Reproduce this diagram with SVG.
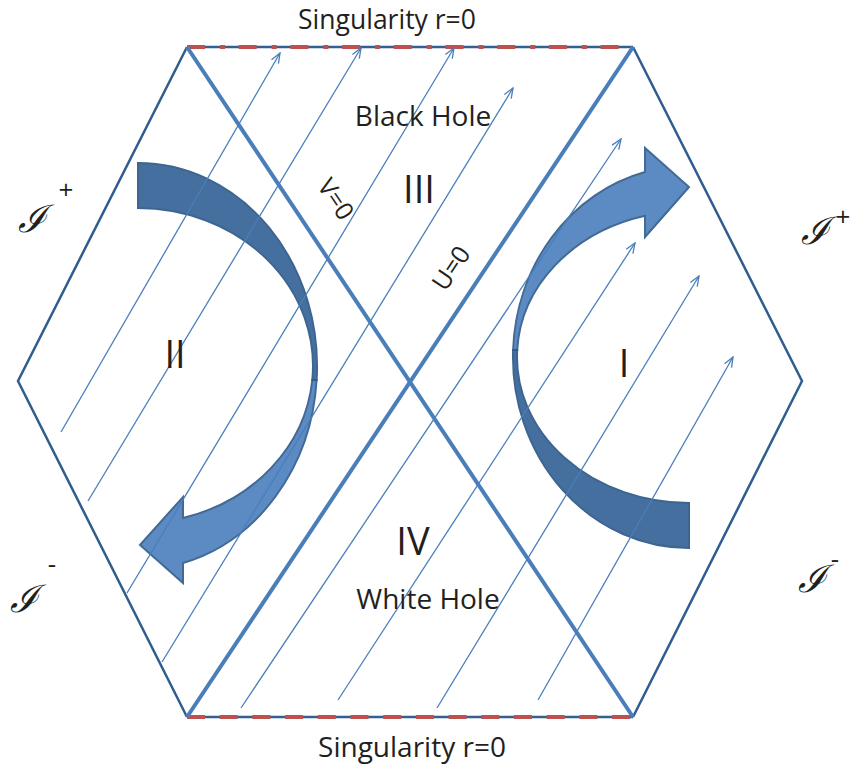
<svg xmlns="http://www.w3.org/2000/svg" width="852" height="772" viewBox="0 0 852 772">
<style>
.edge{fill:none;stroke:#2f5d8f;stroke-width:2.5}
.hor{fill:none;stroke:#33608f;stroke-width:2.5}
.redt{fill:none;stroke:#c0504d;stroke-width:4;stroke-dasharray:18 15 5 13.7}
.redb{fill:none;stroke:#c0504d;stroke-width:4;stroke-dasharray:18 14.7}
.diag{fill:none;stroke:#4a7ebb;stroke-width:4}
.wl{fill:none;stroke:#4a7ebb;stroke-width:1.3;marker-end:url(#ah)}
.lbl{font-family:"Open Sans","Liberation Sans",sans-serif;fill:#231f20;text-anchor:middle}
.big{font-size:28px}
.top{font-size:26.5px}
.num{font-size:38px}
.axis{font-size:25px}
.scri{font-family:"DejaVu Serif","Liberation Serif",serif;font-style:italic;font-size:38px;fill:#231f20}
.sgn{font-family:"Open Sans","Liberation Sans",sans-serif;font-size:26px;fill:#231f20;text-anchor:middle}
.dark{fill:#386597;stroke:#2e5a8a;stroke-width:2;opacity:0.93}
.light{fill:#4b7fbe;stroke:#2e5a8a;stroke-width:2;opacity:0.9}
</style>
<defs>
<marker id="ah" viewBox="0 0 12 10" refX="11" refY="5" markerWidth="12" markerHeight="10" markerUnits="userSpaceOnUse" orient="auto">
<path d="M1,1 L11,5 L1,9" fill="none" stroke="#4a7ebb" stroke-width="1.3"/>
</marker>
</defs>
<rect width="852" height="772" fill="#ffffff"/>

<g id="hexagon">
<path class="edge" d="M187,47 L18,381 L187,717"/>
<path class="edge" d="M633,47 L802,381 L633,717"/>
</g>

<g id="singularity-top">
<line class="hor" x1="187" y1="47" x2="633" y2="47"/>
<line class="redt" x1="187" y1="47" x2="633" y2="47"/>
</g>
<g id="singularity-bottom">
<line class="hor" x1="187" y1="717" x2="633" y2="717"/>
<line class="redb" x1="187" y1="717" x2="633" y2="717"/>
</g>

<g id="horizons">
<line class="diag" x1="187" y1="47" x2="633" y2="717"/>
<line class="diag" x1="633" y1="47" x2="187" y2="717"/>
</g>

<g id="arrow-left">
<path class="dark" d="M138,163 A179,203 0 0 1 316.6,380 L312.3,380 A175,158 0 0 0 138,208 Z"/>
<path class="light" d="M316.6,380 A179,203 0 0 1 183,563 L183,583 L140,545 L183,497 L183,518 A175,158 0 0 0 312.3,380 Z"/>
</g>
<g id="arrow-right">
<path class="light" d="M645,172 A176,191 0 0 0 513.1,350 L517.2,350 A172,146 0 0 1 645,215.8 L645,237 L689,187 L645,148 Z"/>
<path class="dark" d="M513.1,350 A176,191 0 0 0 689,548 L689,503 A172,146 0 0 1 517.2,350 Z"/>
</g>

<g id="connectors">
<line class="wl" x1="61" y1="432" x2="280" y2="53"/>
<line class="wl" x1="88" y1="501" x2="361" y2="48"/>
<line class="wl" x1="127" y1="593" x2="454" y2="48"/>
<line class="wl" x1="162" y1="662" x2="513" y2="88"/>
<line class="wl" x1="241" y1="708" x2="621" y2="139"/>
<line class="wl" x1="338" y1="700" x2="635" y2="243"/>
<line class="wl" x1="437" y1="708" x2="699" y2="276"/>
<line class="wl" x1="538" y1="700" x2="733" y2="357"/>
</g>

<g id="labels">
<text class="lbl top" x="387" y="29">Singularity r=0</text>
<text class="lbl big" x="412" y="757">Singularity r=0</text>
<text class="lbl big" x="423" y="126">Black Hole</text>
<text class="lbl big" x="428" y="609">White Hole</text>
<text class="lbl num" x="419" y="203">III</text>
<text class="lbl num" x="175" y="368">II</text>
<text class="lbl num" x="624" y="377">I</text>
<text class="lbl num" x="413" y="555">IV</text>
<text class="lbl axis" transform="translate(336,199) rotate(56)" x="0" y="9">V=0</text>
<text class="lbl axis" transform="translate(451,268) rotate(-56)" x="0" y="9">U=0</text>
</g>

<g id="scri-plus-left">
<text class="scri" x="18" y="232">ℐ</text>
<text class="sgn" x="66" y="199">+</text>
</g>
<g id="scri-plus-right">
<text class="scri" x="801" y="244">ℐ</text>
<text class="sgn" x="843" y="226">+</text>
</g>
<g id="scri-minus-left">
<text class="scri" x="10" y="612">ℐ</text>
<text class="sgn" x="52" y="573">-</text>
</g>
<g id="scri-minus-right">
<text class="scri" x="798" y="592">ℐ</text>
<text class="sgn" x="835" y="568">-</text>
</g>
</svg>
